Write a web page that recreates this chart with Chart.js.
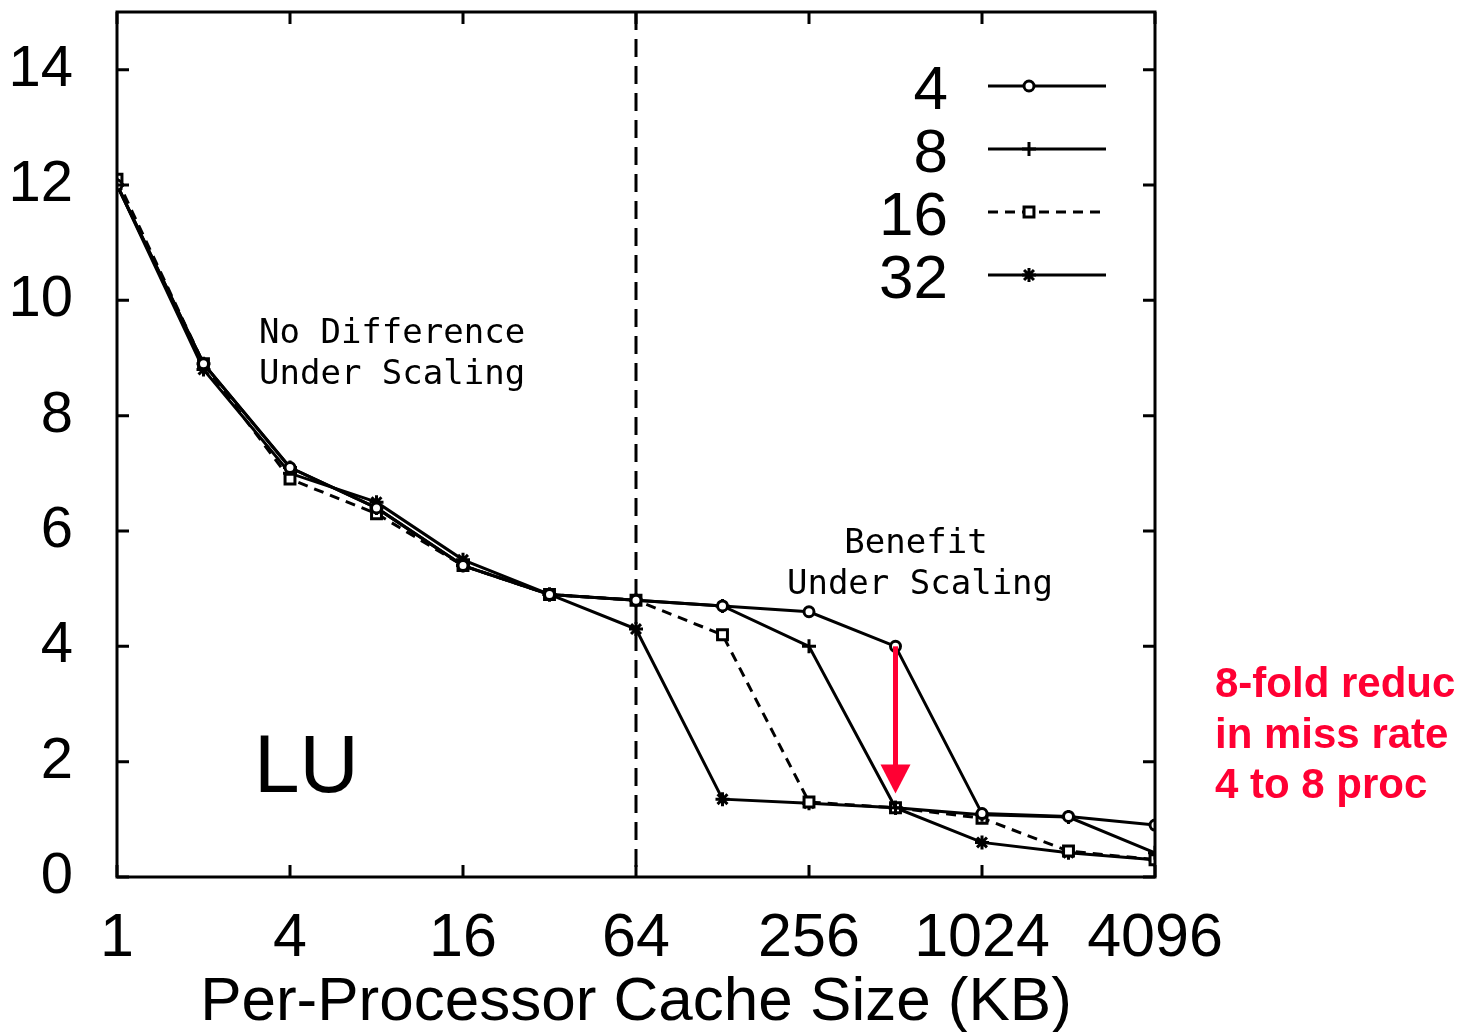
<!DOCTYPE html>
<html>
<head>
<meta charset="utf-8">
<title>LU miss rate vs per-processor cache size</title>
<script src="https://cdn.jsdelivr.net/npm/chart.js@4.4.1/dist/chart.umd.min.js"></script>
<style>
  html, body { margin: 0; padding: 0; background: #fff; }
  #wrap { width: 1472px; height: 1032px; }
</style>
</head>
<body>
<div id="wrap"><canvas id="missChart" width="1472" height="1032"></canvas></div>
<script>
// Per-processor cache size in KB, doubling each step
const cacheSizes = [1, 2, 4, 8, 16, 32, 64, 128, 256, 512, 1024, 2048, 4096];
const xTickValues = [1, 4, 16, 64, 256, 1024, 4096];
const yTickValues = [0, 2, 4, 6, 8, 10, 12, 14];

// Miss rate for each processor count
const procLabels = ['4', '8', '16', '32'];
const miss4  = [12.0, 8.9, 7.1, 6.4, 5.4, 4.9, 4.8, 4.7, 4.6, 4.0, 1.1, 1.05, 0.9];
const miss8  = [12.0, 8.9, 7.1, 6.4, 5.4, 4.9, 4.8, 4.7, 4.0, 1.2, 1.08, 1.04, 0.42];
const miss16 = [12.1, 8.9, 6.9, 6.3, 5.4, 4.9, 4.8, 4.2, 1.3, 1.2, 1.02, 0.45, 0.3];
const miss32 = [12.0, 8.8, 7.0, 6.5, 5.5, 4.9, 4.3, 1.35, 1.28, 1.2, 0.6, 0.42, 0.3];

// Red arrow showing the drop from 4 to 8 processors
const arrowAt = 512;
const arrowFrom = 4.0;
const arrowTo = 1.45;
// Vertical dashed divider
const splitAt = 64;

const RED = '#ff0033';
const FONT = '"Liberation Sans", Arial, sans-serif';

function toPoints(values) {
    return values.map((v, i) => ({ x: cacheSizes[i], y: v }));
}

function makeSeries(label, values, pointStyle, radius, dash) {
    return {
        label: label,
        data: toPoints(values),
        borderColor: '#000',
        backgroundColor: '#fff',
        borderWidth: 3,
        borderDash: dash,
        pointStyle: pointStyle,
        pointRadius: radius,
        pointBorderWidth: 3,
        pointBorderColor: '#000',
        pointBackgroundColor: '#fff',
        tension: 0,
        fill: false
    };
}

function drawMarker(ctx, style, radius, x, y) {
    ctx.save();
    ctx.strokeStyle = '#000';
    ctx.fillStyle = '#fff';
    ctx.lineWidth = 3;
    if (Chart.helpers && Chart.helpers.drawPoint) {
        Chart.helpers.drawPoint(ctx, { pointStyle: style, radius: radius, borderWidth: 3, rotation: 0 }, x, y);
    } else {
        ctx.beginPath();
        ctx.arc(x, y, radius, 0, Math.PI * 2);
        ctx.fill();
        ctx.stroke();
    }
    ctx.restore();
}

// Frame, inward ticks, divider, legend and text notes
const decorations = {
    id: 'decorations',
    beforeDatasetsDraw(chart) {
        const ctx = chart.ctx;
        const a = chart.chartArea;
        const x = chart.scales.x;
        const xs = x.getPixelForValue(splitAt);
        ctx.save();
        ctx.strokeStyle = '#000';
        ctx.lineWidth = 3;
        ctx.setLineDash([18, 9]);
        ctx.beginPath();
        ctx.moveTo(xs, a.top);
        ctx.lineTo(xs, a.bottom);
        ctx.stroke();
        ctx.restore();
    },
    afterDatasetsDraw(chart) {
        const ctx = chart.ctx;
        const a = chart.chartArea;
        const x = chart.scales.x;
        const y = chart.scales.y;
        const tick = 12;

        ctx.save();
        ctx.strokeStyle = '#000';
        ctx.lineWidth = 3;
        ctx.strokeRect(a.left, a.top, a.right - a.left, a.bottom - a.top);

        // ticks point inward on all four sides
        ctx.beginPath();
        yTickValues.forEach(v => {
            const py = y.getPixelForValue(v);
            ctx.moveTo(a.left, py); ctx.lineTo(a.left + tick, py);
            ctx.moveTo(a.right, py); ctx.lineTo(a.right - tick, py);
        });
        xTickValues.forEach(v => {
            const px = x.getPixelForValue(v);
            ctx.moveTo(px, a.bottom); ctx.lineTo(px, a.bottom - tick);
            ctx.moveTo(px, a.top); ctx.lineTo(px, a.top + tick);
        });
        ctx.stroke();

        // legend: label on the left, line sample with marker on the right
        chart.data.datasets.forEach((ds, i) => {
            const ly = 86 + 63 * i;
            ctx.fillStyle = '#000';
            ctx.font = '62px ' + FONT;
            ctx.textAlign = 'right';
            ctx.textBaseline = 'alphabetic';
            ctx.fillText(ds.label, 948, ly + 23);
            ctx.lineWidth = 3;
            ctx.setLineDash(ds.borderDash || []);
            ctx.beginPath();
            ctx.moveTo(988, ly);
            ctx.lineTo(1106, ly);
            ctx.stroke();
            ctx.setLineDash([]);
            drawMarker(ctx, ds.pointStyle, ds.pointRadius, 1029, ly);
        });

        // notes inside the plot
        ctx.fillStyle = '#000';
        ctx.textAlign = 'left';
        ctx.font = '34px "DejaVu Sans Mono", monospace';
        ctx.fillText('No Difference', 259, 343);
        ctx.fillText('Under Scaling', 259, 384);
        ctx.textAlign = 'center';
        ctx.fillText('Benefit', 916, 553);
        ctx.fillText('Under Scaling', 920, 594);

        ctx.textAlign = 'left';
        ctx.font = '82px ' + FONT;
        ctx.fillText('LU', 254, 792);

        // arrow from the 4-processor point down to the 8-processor level
        const ax = x.getPixelForValue(arrowAt);
        const ay0 = y.getPixelForValue(arrowFrom);
        const ay1 = y.getPixelForValue(arrowTo);
        ctx.strokeStyle = RED;
        ctx.fillStyle = RED;
        ctx.lineWidth = 5;
        ctx.beginPath();
        ctx.moveTo(ax, ay0);
        ctx.lineTo(ax, ay1 - 26);
        ctx.stroke();
        ctx.beginPath();
        ctx.moveTo(ax - 15, ay1 - 29);
        ctx.lineTo(ax + 15, ay1 - 29);
        ctx.lineTo(ax, ay1);
        ctx.closePath();
        ctx.fill();

        // side note
        ctx.font = 'bold 42px ' + FONT;
        ctx.fillText('8-fold reduc', 1215, 697);
        ctx.fillText('in miss rate', 1215, 748);
        ctx.fillText('4 to 8 proc', 1215, 798);
        ctx.restore();
    }
};

const ctx = document.getElementById('missChart').getContext('2d');
const missChart = new Chart(ctx, {
    type: 'line',
    data: {
        datasets: [
            makeSeries(procLabels[0], miss4, 'circle', 5, []),
            makeSeries(procLabels[1], miss8, 'cross', 7, []),
            makeSeries(procLabels[2], miss16, 'rect', 7, [10, 7]),
            makeSeries(procLabels[3], miss32, 'star', 7, [])
        ]
    },
    options: {
        responsive: false,
        animation: false,
        devicePixelRatio: 1,
        layout: { padding: { top: 12, right: 317, left: 0, bottom: 0 } },
        plugins: {
            legend: { display: false },
            tooltip: { enabled: false }
        },
        scales: {
            x: {
                type: 'logarithmic',
                min: 1,
                max: 4096,
                afterBuildTicks: scale => { scale.ticks = xTickValues.map(v => ({ value: v })); },
                afterFit: scale => {
                    scale.height = 155;
                    scale.paddingLeft = 0;
                    scale.paddingRight = 0;
                },
                grid: { display: false },
                border: { display: false },
                ticks: {
                    autoSkip: false,
                    maxRotation: 0,
                    color: '#000',
                    padding: 18,
                    font: { family: FONT, size: 61 },
                    callback: value => String(value)
                },
                title: {
                    display: true,
                    text: 'Per-Processor Cache Size (KB)',
                    color: '#000',
                    font: { family: FONT, size: 62 },
                    padding: { top: 0, bottom: -8 }
                }
            },
            y: {
                type: 'linear',
                min: 0,
                max: 15,
                afterBuildTicks: scale => { scale.ticks = yTickValues.map(v => ({ value: v })); },
                afterFit: scale => {
                    scale.width = 117;
                    scale.paddingTop = 0;
                    scale.paddingBottom = 0;
                },
                grid: { display: false },
                border: { display: false },
                ticks: {
                    color: '#000',
                    padding: 36,
                    font: { family: FONT, size: 58 }
                }
            }
        }
    },
    plugins: [decorations]
});
</script>
</body>
</html>
